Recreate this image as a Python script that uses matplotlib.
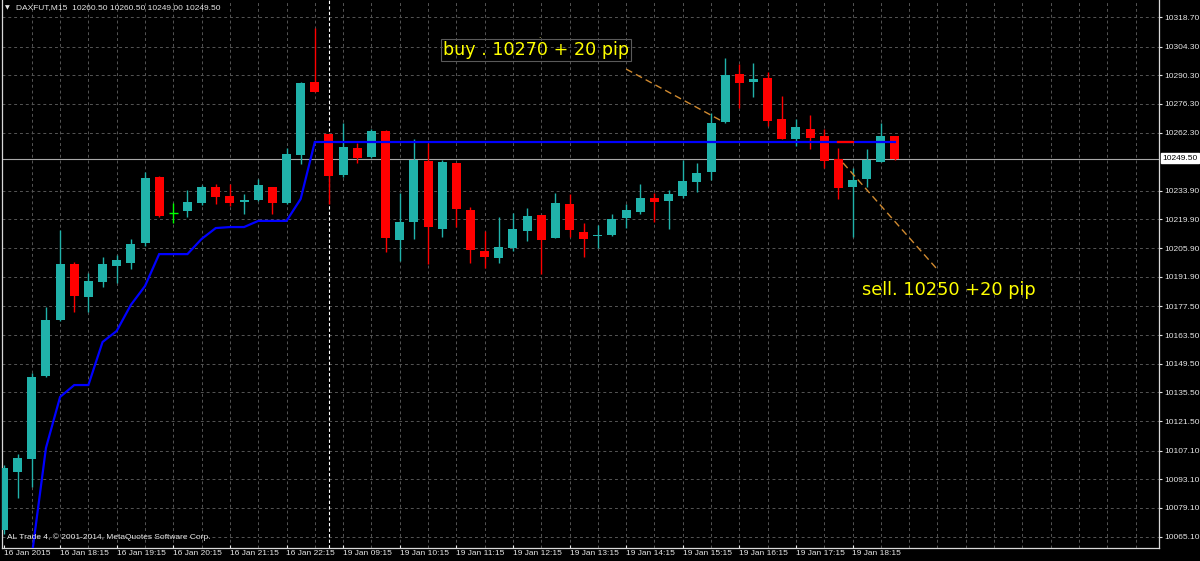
import matplotlib
matplotlib.use("Agg")
import matplotlib.pyplot as plt
import numpy as np

# MT4-ish look
plt.rcParams['font.family'] = ['Liberation Sans', 'DejaVu Sans']
plt.rcParams['font.size'] = 6

# --- data (DAXFUT M15) ---
opens = [10068.4, 10096.7, 10103.0, 10143.5, 10170.8, 10198.2, 10182.1, 10189.4, 10197.2, 10198.7,
         10208.4, 10240.6, 10223.1, 10224.0, 10227.9, 10235.7, 10231.4, 10228.4, 10229.4, 10235.7,
         10227.9, 10251.4, 10287.0, 10261.6, 10241.6, 10254.8, 10250.4, 10263.1, 10209.9, 10218.7,
         10248.4, 10215.2, 10247.5, 10224.5, 10204.5, 10201.1, 10206.0, 10214.3, 10222.1, 10210.9,
         10227.5, 10213.8, 10211.6, 10212.3, 10220.6, 10223.5, 10230.4, 10228.9, 10231.4, 10238.2,
         10243.1, 10267.5, 10290.9, 10287.0, 10288.9, 10268.9, 10259.2, 10264.0, 10260.6, 10249.4,
         10235.7, 10239.6, 10247.9, 10260.5]
highs = [10100.1, 10105.4, 10145.0, 10177.2, 10214.8, 10199.1, 10193.8, 10201.6, 10202.6, 10210.4,
         10243.1, 10241.1, 10227.9, 10234.3, 10236.7, 10237.2, 10237.2, 10232.3, 10239.6, 10235.7,
         10254.8, 10287.0, 10313.3, 10261.6, 10267.0, 10257.2, 10264.0, 10263.6, 10232.8, 10259.2,
         10257.2, 10248.9, 10247.5, 10226.0, 10214.3, 10221.1, 10223.1, 10225.5, 10222.1, 10232.8,
         10232.3, 10218.2, 10217.2, 10222.6, 10227.5, 10237.2, 10232.8, 10234.3, 10248.9, 10247.5,
         10271.9, 10298.7, 10295.8, 10296.3, 10291.9, 10280.2, 10268.9, 10270.9, 10264.0, 10254.8,
         10245.0, 10254.3, 10267.0, 10260.5]
lows = [10066.4, 10084.0, 10089.3, 10143.0, 10170.4, 10174.7, 10174.7, 10186.9, 10188.9, 10195.7,
        10207.0, 10221.1, 10218.2, 10221.1, 10227.0, 10227.5, 10226.5, 10222.6, 10228.9, 10222.6,
        10227.5, 10247.0, 10282.1, 10227.5, 10240.6, 10247.5, 10249.9, 10204.0, 10199.6, 10210.4,
        10198.2, 10211.3, 10216.2, 10198.7, 10196.2, 10198.7, 10204.5, 10209.4, 10193.3, 10210.9,
        10211.3, 10201.6, 10206.0, 10211.8, 10215.7, 10222.6, 10218.7, 10215.2, 10230.4, 10233.3,
        10239.2, 10267.0, 10274.3, 10279.7, 10265.5, 10259.2, 10255.8, 10254.3, 10245.0, 10229.9,
        10211.3, 10235.7, 10247.9, 10249.0]
closes = [10098.6, 10103.5, 10143.0, 10170.8, 10198.2, 10182.5, 10189.9, 10198.2, 10200.1, 10207.9,
          10240.1, 10221.6, 10223.1, 10228.4, 10235.7, 10230.9, 10227.9, 10229.4, 10236.7, 10227.9,
          10251.9, 10286.5, 10282.1, 10241.1, 10255.3, 10249.9, 10263.1, 10210.9, 10218.7, 10248.9,
          10216.2, 10247.9, 10225.0, 10205.0, 10201.6, 10206.5, 10215.2, 10221.6, 10209.9, 10227.9,
          10214.8, 10210.4, 10212.1, 10220.1, 10224.5, 10230.4, 10228.4, 10232.3, 10238.7, 10242.6,
          10267.0, 10290.4, 10286.5, 10288.5, 10268.0, 10259.2, 10265.0, 10259.7, 10248.4, 10235.3,
          10239.2, 10248.9, 10260.6, 10249.5]

# indicator line (starts at bar 2)
line_start = 2
line_vals = [10055.7, 10108.4, 10133.3, 10139.1, 10139.1, 10160.1, 10165.5, 10178.2, 10187.4, 10203.0,
             10203.0, 10203.0, 10210.4, 10215.7, 10216.2, 10216.2, 10219.2, 10219.2, 10219.2, 10229.9] \
            + [10257.7] * 42
red_seg_bars = [59, 60]

time_ticks = list(range(0, 61, 4))
time_labels = ["16 Jan 2015", "16 Jan 18:15", "16 Jan 19:15", "16 Jan 20:15", "16 Jan 21:15",
               "16 Jan 22:15", "19 Jan 09:15", "19 Jan 10:15", "19 Jan 11:15", "19 Jan 12:15",
               "19 Jan 13:15", "19 Jan 14:15", "19 Jan 15:15", "19 Jan 16:15", "19 Jan 17:15",
               "19 Jan 18:15"]
price_ticks = [10318.70, 10304.30, 10290.30, 10276.30, 10262.30, 10233.90, 10219.90, 10205.90,
               10191.90, 10177.50, 10163.50, 10149.50, 10135.50, 10121.50, 10107.10, 10093.10,
               10079.10, 10065.10]
last_price = 10249.50
separator_bar = 23

# trend lines drawn on the chart (bar, price)
buy_line = ([44.0, 50.64], [10293.3, 10268.4])
sell_line = ([59.33, 65.97], [10247.5, 10195.7])
buy_text = "buy . 10270 + 20 pip"
sell_text = "sell. 10250 +20 pip"

# --- figure geometry (pixels) ---
W, H = 1200, 561
PLOT_L, PLOT_R, PLOT_B = 2, 1159, 548
BAR_PX = 14.15
X0_PX = 3.5
PX_PER_PT = 1 / 0.488
Y_TOP = 10327.0

BULL = '#20b2aa'
BEAR = '#ff0000'
DOJI = '#00ff00'
FG = '#e6e6e6'

fig = plt.figure(figsize=(W / 100, H / 100), dpi=100, facecolor='black')
ax = fig.add_axes([PLOT_L / W, (H - PLOT_B) / H, (PLOT_R - PLOT_L) / W, PLOT_B / H])
ax.set_facecolor('black')
ax.set_xlim((PLOT_L - X0_PX) / BAR_PX, (PLOT_R - X0_PX) / BAR_PX)
ax.set_ylim(Y_TOP - PLOT_B / PX_PER_PT, Y_TOP)

grid_kw = dict(color='#555555', linewidth=0.7, linestyle=(0, (3, 3)), zorder=0)
ax.hlines(price_ticks, *ax.get_xlim(), **grid_kw)
ax.vlines(np.arange(2, 82, 2), *ax.get_ylim(), **grid_kw)

# bid line + day separator
ax.axhline(last_price, color='#a8a8a8', linewidth=0.8, zorder=1)
ax.axvline(separator_bar, color='white', linewidth=0.8, linestyle=(0, (3, 2)), zorder=1)

o = np.array(opens); h = np.array(highs); l = np.array(lows); c = np.array(closes)
x = np.arange(len(o))
colors = np.where(c > o, BULL, np.where(c < o, BEAR, DOJI))
ax.vlines(x, l, h, colors=colors, linewidth=1, zorder=2)
body_w = 9 / BAR_PX
is_doji = c == o
ax.bar(x[~is_doji], np.maximum(np.abs(c - o), 1 / PX_PER_PT)[~is_doji],
       bottom=np.minimum(o, c)[~is_doji], width=body_w, color=colors[~is_doji],
       linewidth=0, zorder=3)
ax.hlines(c[is_doji], x[is_doji] - body_w / 2, x[is_doji] + body_w / 2,
          colors=colors[is_doji], linewidth=1, zorder=3)

# indicator
lx = np.arange(line_start, line_start + len(line_vals))
ax.plot(lx, line_vals, color='#0000ff', linewidth=1.6, zorder=4, solid_joinstyle='miter')
lv = np.array(line_vals)
ax.plot(red_seg_bars, lv[np.array(red_seg_bars) - line_start], color=BEAR, linewidth=1.6, zorder=5)

# trend lines
tl_kw = dict(color='#d08a30', linewidth=1.0, linestyle=(0, (5, 3)), zorder=5)
ax.plot(*buy_line, **tl_kw)
ax.plot(*sell_line, **tl_kw)


def fx(px):
    return px / W


def fy(py):
    return 1 - py / H


fig.text(fx(443), fy(50), buy_text, color='#ffff00', fontsize=12.6, family='DejaVu Sans',
         va='center', ha='left',
         bbox=dict(facecolor='none', edgecolor='#5a5a5a', linewidth=0.8, boxstyle='square,pad=0.12'))
fig.text(fx(539.5), fy(36), '.', color='#ffff80', fontsize=6, ha='center', va='center')
fig.text(fx(862), fy(290), sell_text, color='#ffff00', fontsize=12.8, family='DejaVu Sans',
         va='center', ha='left')

# header and copyright
fig.text(fx(5), fy(8), '\u25bc', color=FG, fontsize=4.5, family='DejaVu Sans', va='center')
fig.text(fx(16), fy(8), 'DAXFUT,M15  10260.50 10260.50 10249.00 10249.50', color=FG,
         va='center', ha='left')
fig.text(fx(7), fy(537), 'AL Trade 4, \u00a9 2001-2014, MetaQuotes Software Corp.', color=FG,
         va='center', ha='left')

# axes
for side in ('top',):
    ax.spines[side].set_visible(False)
for side in ('left', 'right', 'bottom'):
    ax.spines[side].set_color('#d8d8d8')
    ax.spines[side].set_linewidth(0.9)

ax.set_xticks(time_ticks)
ax.set_xticklabels(time_labels)
ax.tick_params(axis='x', colors=FG, direction='in', length=2.5, width=0.8, pad=1.2,
               labelsize=6)
for lab in ax.get_xticklabels():
    lab.set_ha('left')

ax.yaxis.tick_right()
ax.set_yticks(price_ticks)
ax.set_yticklabels([f"{p:.2f}" for p in price_ticks])
ax.tick_params(axis='y', colors=FG, direction='out', length=2, width=0.8, pad=1.5,
               labelsize=6)

fig.text(fx(1162), fy(158), f"{last_price:.2f}", color='black', fontsize=6, va='center',
         ha='left', bbox=dict(facecolor='white', edgecolor='white', boxstyle='square,pad=0.15'))

fig.savefig('out.png', dpi=100, facecolor='black')
